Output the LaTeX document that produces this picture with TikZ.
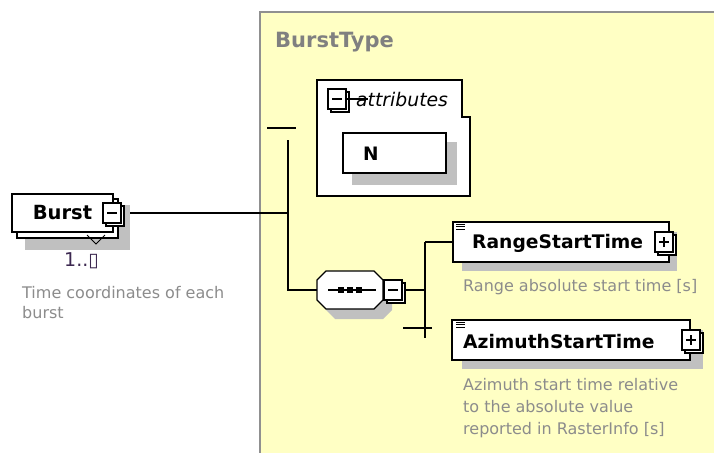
\documentclass[tikz,border=0pt]{standalone}
\usepackage{fontspec}
\setmainfont{DejaVu Sans}
\definecolor{yellowbg}{HTML}{FFFFC4}
\definecolor{bordergray}{HTML}{909090}
\definecolor{shadowgray}{HTML}{C0C0C0}
\definecolor{descgray}{HTML}{8C8C8C}
\definecolor{titlegray}{HTML}{808080}
\definecolor{multcol}{HTML}{3C2850}
\newcommand\fsz[2]{\fontsize{#1}{#2}\selectfont}
\pgfdeclarelayer{back}
\pgfdeclarelayer{mid}
\pgfsetlayers{back,mid,main}
\newcommand\expbox[3]{%
  \draw[box] (#2-6,#3-7) rectangle (#2+12,#3+13);
  \node[box, minimum width=18pt, minimum height=20pt] (#1) at (#2,#3) {};
  \draw[line width=1.3pt] (#2-5,#3) -- (#2+5,#3);}
\newcommand\plusbar[2]{\draw[line width=1.3pt] (#1,#2-5) -- (#1,#2+5);}
\begin{document}
\begin{tikzpicture}[x=1pt,y=-1pt,
  box/.style={draw=black, fill=white, line width=1.3pt, inner sep=0pt},
  conn/.style={draw=black, line width=1.3pt},
  desc/.style={text=descgray, font=\fsz{16}{20}, anchor=west, inner sep=0pt, align=left},
  title/.style={font=\bfseries\fsz{18.7}{22}, anchor=base west, inner sep=0pt},
  shad/.style={fill=shadowgray, draw=none}]
\useasboundingbox (0,0) rectangle (714,452);
\begin{pgfonlayer}{back}
\fill[white] (0,0) rectangle (714,452);
\draw[fill=yellowbg, draw=bordergray, line width=1.5pt] (260,12) rectangle (725,465);
\end{pgfonlayer}

% type label
\node[font=\bfseries\fsz{21}{24}, text=titlegray, anchor=base west, inner sep=0pt] (typelbl) at (275,48) {BurstType};

% Burst element
\fill[shad] (25,205) rectangle (130,250);
\draw[box] (17,199) rectangle (118,238);
\node[box, minimum width=101pt, minimum height=38pt, font=\bfseries\fsz{19.5}{22}] (burst) at (62.5,213) {Burst};
\draw[line width=1pt] (87,235) -- (96,244) -- (105,235);
\expbox{bm}{112}{213}
\node[font=\fsz{19}{22}, text=multcol, anchor=west, inner sep=0pt] (mult) at (64,261) {1..▯};
\node[desc, font=\fsz{16}{20}] (burstdesc) at (22,303) {Time coordinates of each\\burst};

% attributes box
\draw[box] (317,80) -- (462,80) -- (462,117) -- (470,117) -- (470,196) -- (317,196) -- cycle;
\node[font=\itshape\fsz{18.8}{22}, anchor=base west, inner sep=0pt] (attrlbl) at (356,106) {attributes};
\expbox{am}{337}{99}
\draw[line width=1.3pt] (am.east) -- (368,99);
\fill[shad] (352,142) rectangle (457,185);
\node[box, minimum width=103pt, minimum height=40pt] (nbox) at (394.5,153) {};
\node[font=\bfseries\fsz{18.5}{22}, anchor=base west, inner sep=0pt] (nlbl) at (363,160) {N};

% sequence compositor
\fill[shad] (335,281) -- (383,281) -- (392,290) -- (392,310) -- (383,319) -- (335,319) -- (326,310) -- (326,290) -- cycle;
\node[minimum width=66pt, minimum height=38pt, inner sep=0pt] (seq) at (350,290) {};
\draw[box] (326,271) -- (374,271) -- (383,280) -- (383,300) -- (374,309) -- (326,309) -- (317,300) -- (317,280) -- cycle;
\draw[line width=1.3pt] (328,290) -- (376,290);
\fill (338,287) rectangle (344,293);
\fill (347,287) rectangle (353,293);
\fill (356,287) rectangle (362,293);
\expbox{sm}{393}{290}

% RangeStartTime
\fill[shad] (462,232) rectangle (677,271);
\node[box, minimum width=216pt, minimum height=40pt] (range) at (561,242) {};
\draw[line width=0.9pt] (456,224) -- (465,224) (456,226.5) -- (465,226.5) (456,229) -- (465,229);
\node[title] (rangelbl) at (472,248) {RangeStartTime};
\expbox{rp}{664}{242}
\plusbar{664}{242}
\node[desc] (rangedesc) at (463,287) {Range absolute start time [s]};

% AzimuthStartTime
\fill[shad] (462,330) rectangle (703,369);
\node[box, minimum width=238pt, minimum height=40pt] (azim) at (571,340) {};
\draw[line width=0.9pt] (456,322) -- (465,322) (456,324.5) -- (465,324.5) (456,327) -- (465,327);
\node[title] (azimlbl) at (463,348) {AzimuthStartTime};
\expbox{ap}{691}{340}
\plusbar{691}{340}
\node[desc, font=\fsz{16}{22}] (azimdesc) at (463,408) {Azimuth start time relative\\to the absolute value\\reported in RasterInfo [s]};

% connectors
\coordinate (vtop) at (288,140);
\coordinate (vbot) at (288,290);
\coordinate (stubL) at (267,128);
\coordinate (stubR) at (296,128);
\coordinate (v2top) at (425,242);
\coordinate (v2bot) at (425,338);
\coordinate (stub2L) at (403,328);
\coordinate (stub2R) at (432,328);
\begin{pgfonlayer}{mid}
\draw[conn] (bm.east) -- (bm.east -| vtop);
\draw[conn] (stubL) -- (stubR);
\draw[conn] (vtop) -- (vbot) -- (seq.west);
\draw[conn] (sm.east) -- (sm.east -| v2top);
\draw[conn] (v2top) -- (v2bot);
\draw[conn] (v2top) -- (range.west);
\draw[conn] (stub2L) -- (stub2R);
\end{pgfonlayer}
\end{tikzpicture}
\end{document}
